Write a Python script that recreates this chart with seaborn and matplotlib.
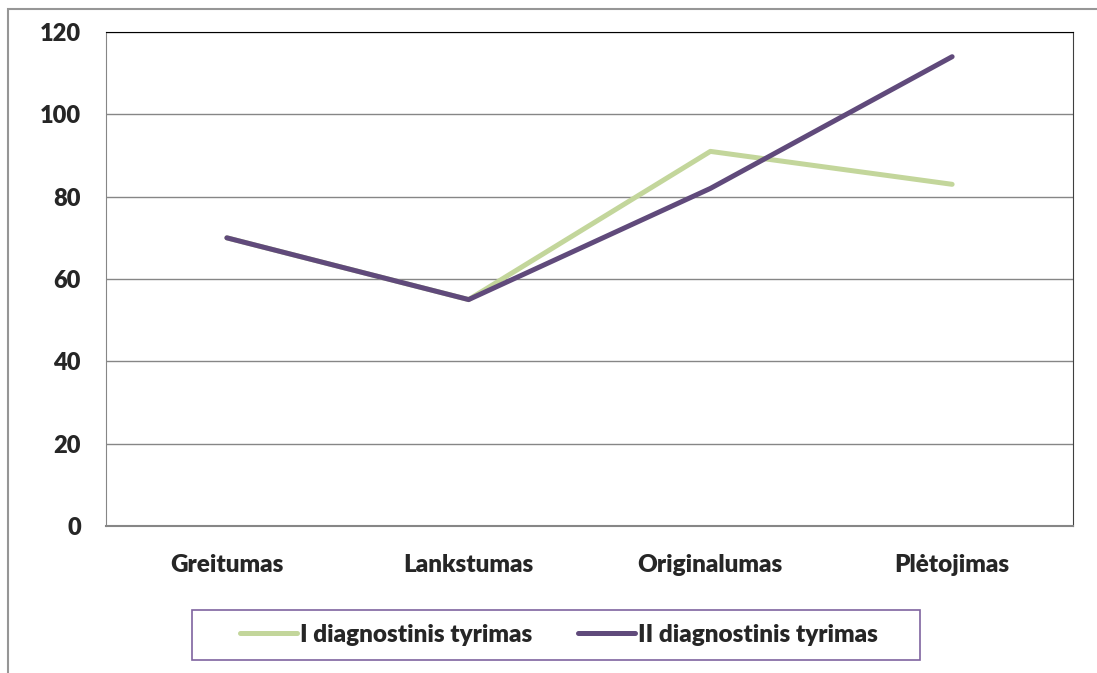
import matplotlib
matplotlib.use("Agg")
import matplotlib.pyplot as plt
from matplotlib.patches import Rectangle
import pandas as pd
import seaborn as sns

categories = ["Greitumas", "Lankstumas", "Originalumas", "Plėtojimas"]
series_names = ["I diagnostinis tyrimas", "II diagnostinis tyrimas"]
tyrimas_1 = [70, 55, 91, 83]
tyrimas_2 = [70, 55, 82, 114]
y_ticks = [0, 20, 40, 60, 80, 100, 120]

colors = ["#c3d69b", "#604a7b"]

df = pd.DataFrame({
    "x": list(range(len(categories))) * 2,
    "value": tyrimas_1 + tyrimas_2,
    "series": [series_names[0]] * 4 + [series_names[1]] * 4,
})

sns.set_style("white")
plt.rcParams["font.family"] = ["Lato", "DejaVu Sans"]
plt.rcParams["font.weight"] = "heavy"

fig = plt.figure(figsize=(10.97, 6.73), dpi=100)
ax = fig.add_axes([106 / 1097, 147 / 673, 967 / 1097, 494 / 673])

sns.lineplot(data=df, x="x", y="value", hue="series", palette=colors,
             linewidth=3.6, ax=ax, legend=True, solid_capstyle="round")

ax.set_xlim(-0.5, 3.5)
ax.set_ylim(0, 120)
ax.set_yticks(y_ticks)
ax.set_xticks(range(len(categories)))
ax.set_xticklabels(categories, fontsize=17.5, fontweight="heavy")
ax.set_xticks([-0.5, 0.5, 1.5, 2.5, 3.5], minor=True)
ax.tick_params(axis="x", which="major", length=0, pad=20)
ax.tick_params(axis="x", which="minor", length=7, color="#868686", width=1)
ax.tick_params(axis="y", length=8, color="#868686", width=1, labelsize=17, pad=10)
for lbl in ax.get_yticklabels():
    lbl.set_fontweight("heavy")
ax.set_xlabel("")
ax.set_ylabel("")
ax.yaxis.grid(True, color="#868686", linewidth=1)
ax.set_axisbelow(True)

ax.spines["left"].set_color("#868686")
ax.spines["bottom"].set_color("#868686")
ax.spines["bottom"].set_linewidth(1.5)
ax.spines["top"].set_color("black")
ax.spines["right"].set_color("#404040")

# legend without its own frame; box drawn separately so padding matches
handles, labels = ax.get_legend_handles_labels()
leg = ax.legend(handles, labels, loc="center", bbox_to_anchor=(559 / 1097, 38 / 673),
                bbox_transform=fig.transFigure, ncol=2, frameon=False,
                handlelength=2.35, handletextpad=0.1, columnspacing=1.9,
                prop={"weight": "heavy", "size": 17.5})

fig.patches.append(Rectangle((192 / 1097, 13 / 673), 728 / 1097, 50 / 673,
                             transform=fig.transFigure, fill=False,
                             edgecolor="#7f64a0", linewidth=1.2))
fig.patches.append(Rectangle((8 / 1097, -0.1), 1.1, 1 - 9 / 673 + 0.1,
                             transform=fig.transFigure, fill=False,
                             edgecolor="#969696", linewidth=1.5))

fig.savefig("out.png", dpi=100)
